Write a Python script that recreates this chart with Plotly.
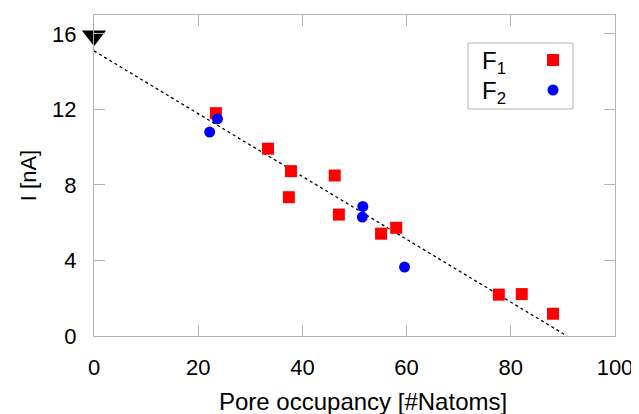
import plotly.graph_objects as go

# Data
f1_x = [23.4, 33.4, 37.8, 37.4, 46.2, 47.0, 55.1, 58.0, 77.7, 82.1, 88.1]
f1_y = [11.8, 9.92, 8.73, 7.35, 8.50, 6.43, 5.42, 5.73, 2.19, 2.22, 1.18]
f2_x = [22.2, 23.7, 51.6, 51.5, 59.6]
f2_y = [10.8, 11.5, 6.86, 6.30, 3.65]
fit_x = [0, 90.8]
fit_y = [15.1, 0]
ref_x = [0]
ref_y = [15.9]

FONT = "Liberation Sans, Arial, sans-serif"
AXIS_GRAY = "#b4b4b4"

# the page puts the figure 8px in from the top-left corner
OFF = 8
W, H = 639 - OFF, 414 - OFF
L, R, T, B = 94 - OFF, 24, 15 - OFF, 78
PW, PH = W - L - R, H - T - B


def px(x):
    # screen pixel -> paper fraction
    return (x - OFF - L) / PW


def py(y):
    return (OFF + H - B - y) / PH


fig = go.Figure()

fig.add_trace(go.Scatter(
    x=fit_x, y=fit_y, mode="lines",
    line=dict(color="black", width=1.3, dash="3px,3px"),
    showlegend=False, hoverinfo="skip"
))
fig.add_trace(go.Scatter(
    x=f1_x, y=f1_y, mode="markers", name="F1",
    marker=dict(symbol="square", size=12, color="#ff0000", line=dict(width=0)),
    showlegend=False
))
fig.add_trace(go.Scatter(
    x=f2_x, y=f2_y, mode="markers", name="F2",
    marker=dict(symbol="circle", size=11, color="#0000ff", line=dict(width=0)),
    showlegend=False
))
fig.add_trace(go.Scatter(
    x=ref_x, y=ref_y, mode="markers", cliponaxis=False,
    marker=dict(symbol="triangle-down", size=21, color="black", line=dict(width=0)),
    showlegend=False
))

# legend drawn by hand so the symbol sits right of the label
shapes = [
    dict(type="rect", xref="paper", yref="paper",
         x0=px(468), x1=px(573), y0=py(109), y1=py(43),
         line=dict(color=AXIS_GRAY, width=1), fillcolor="white", layer="above"),
    dict(type="rect", xref="paper", yref="paper",
         x0=px(547), x1=px(559), y0=py(66), y1=py(54),
         line=dict(width=0), fillcolor="#ff0000", layer="above"),
    dict(type="circle", xref="paper", yref="paper",
         x0=px(547.5), x1=px(558.5), y0=py(95.5), y1=py(84.5),
         line=dict(width=0), fillcolor="#0000ff", layer="above"),
]
annotations = [
    dict(text="F<sub>1</sub>", xref="paper", yref="paper",
         x=px(480), y=py(62), xanchor="left", yanchor="middle",
         showarrow=False, font=dict(family=FONT, size=24, color="black")),
    dict(text="F<sub>2</sub>", xref="paper", yref="paper",
         x=px(480), y=py(92), xanchor="left", yanchor="middle",
         showarrow=False, font=dict(family=FONT, size=24, color="black")),
    # x title sits a little right of the plot centre in the reference
    dict(text="Pore occupancy [#Natoms]", xref="paper", yref="paper",
         x=px(363), y=py(401), xanchor="center", yanchor="middle",
         showarrow=False, font=dict(family=FONT, size=24, color="black")),
]

axis_common = dict(
    showline=True, linecolor=AXIS_GRAY, linewidth=1, mirror="ticks",
    ticks="inside", ticklen=11, tickcolor=AXIS_GRAY, tickwidth=1,
    showgrid=False, zeroline=False, automargin=False,
    tickfont=dict(family=FONT, size=22, color="black"),
)

fig.update_layout(
    width=W, height=H,
    margin=dict(l=L, r=R, t=T, b=B),
    paper_bgcolor="white", plot_bgcolor="white",
    font=dict(family=FONT, color="black"),
    shapes=shapes, annotations=annotations,
    xaxis=dict(
        range=[0, 100], tickvals=[0, 20, 40, 60, 80, 100],
        ticklabelstandoff=12,
        **axis_common
    ),
    yaxis=dict(
        range=[0, 17], tickvals=[0, 4, 8, 12, 16],
        ticklabelstandoff=12,
        title=dict(text="I [nA]", standoff=9,
                   font=dict(family=FONT, size=22)),
        **axis_common
    ),
    showlegend=False,
)

fig.write_html("out.html")
